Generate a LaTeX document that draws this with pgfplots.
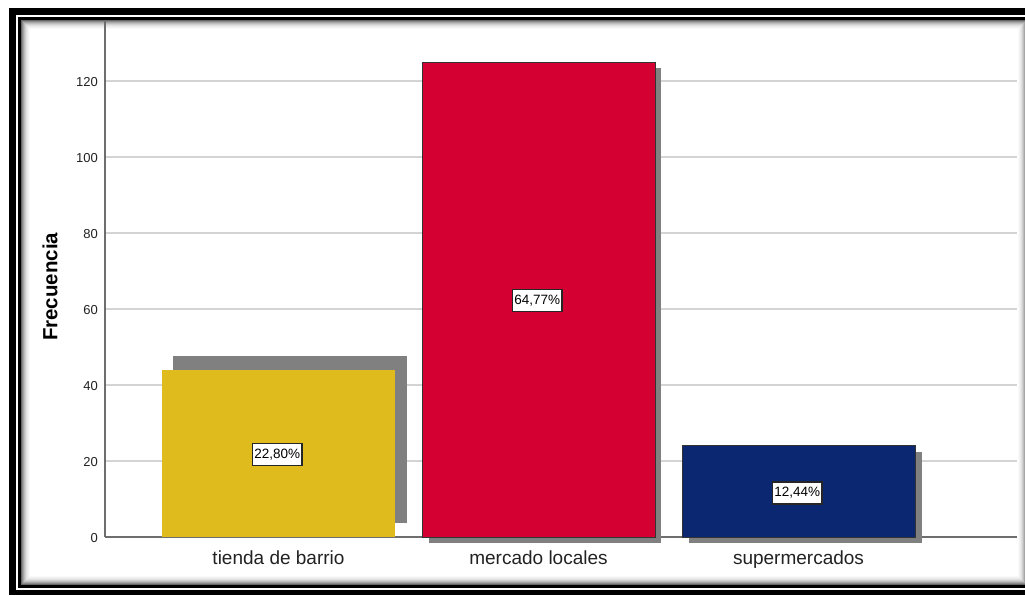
\documentclass[border=0pt]{standalone}
\usepackage{pgfplots}
\pgfplotsset{compat=1.18}
\usepackage{fontspec}
\setmainfont{Liberation Sans}
\definecolor{barY}{HTML}{E0BB1E}
\definecolor{barR}{HTML}{D50032}
\definecolor{barB}{HTML}{0B2771}
\definecolor{shadowgray}{HTML}{808080}
\definecolor{gridgray}{HTML}{D4D4D4}
\definecolor{axisgray}{HTML}{6E6E6E}
\definecolor{txt}{HTML}{222222}
\begin{document}
\begin{tikzpicture}[x=1pt,y=1pt]
\useasboundingbox (0,0) rectangle (1025,595);
% outer frame
\fill[black] (9,0) rectangle (1030,587);
\fill[white] (16,5) rectangle (1030,580);
\fill[black] (18,7) rectangle (1030,578);
\foreach \i/\c in {0/60,1/46,2/35,3/26,4/18,5/12,6/8,7/5,8/2,9/0} {
  \fill[black!\c] ({21+\i},{10+\i}) rectangle ({1027-\i},{575-\i});
}
\begin{axis}[
  at={(105pt,58pt)}, anchor=south west,
  scale only axis, width=912pt, height=517pt,
  xmin=-0.6673, xmax=2.8404, ymin=0, ymax=136.05,
  axis x line=bottom, axis y line=left,
  axis line style={-, color=axisgray, line width=1.2pt},
  xtick={0,1,2},
  xticklabels={tienda de barrio, mercado locales, supermercados},
  ytick={0,20,40,60,80,100,120},
  major tick length=0pt,
  ymajorgrids, grid style={color=gridgray, line width=1.6pt},
  clip=false,
  /pgf/number format/assume math mode=true,
  xticklabel style={font=\fontsize{19}{21}\selectfont, anchor=base, yshift=-27pt, text=txt},
  yticklabel style={font=\fontsize{13}{14}\selectfont, anchor=east, inner sep=0pt, xshift=-7pt, yshift=-1.5pt, text=txt},
  ylabel={Frecuencia},
  ylabel style={font=\fontsize{20.5}{22}\selectfont\bfseries, at={(axis description cs:-0.0603,0.484)}, anchor=center, text=black},
]
% shadows
\addplot[fill=shadowgray, draw=none] coordinates {(-0.407,3.6) (0.494,3.6) (0.494,47.6) (-0.407,47.6)} --cycle;
\addplot[fill=shadowgray, draw=none] coordinates {(0.577,-1.6) (1.473,-1.6) (1.473,123.4) (0.577,123.4)} --cycle;
\addplot[fill=shadowgray, draw=none] coordinates {(1.579,-1.6) (2.475,-1.6) (2.475,22.4) (1.579,22.4)} --cycle;
% bars
\addplot[ybar, bar width=233pt, bar shift=0pt, fill=barY, draw=none] coordinates {(0,44)};
\addplot[ybar, bar width=233pt, bar shift=0pt, fill=barR, draw=black!80, line width=0.8pt] coordinates {(1,125)};
\addplot[ybar, bar width=233pt, bar shift=0pt, fill=barB, draw=black!80, line width=0.8pt] coordinates {(2,24)};
% percent labels
\addplot[draw=none, mark=none, nodes near coords, point meta=explicit symbolic,
  every node near coord/.append style={anchor=center, fill=white, draw=black!85, line width=1.2pt, inner xsep=2pt, inner ysep=5pt, text height=10pt, text depth=2pt, font=\fontsize{13.5}{14}\selectfont, text=black}]
  coordinates {(-0.005,21.8) [22,80\%] (0.995,62.3) [64,77\%] (1.995,11.6) [12,44\%]};
\end{axis}
\end{tikzpicture}
\end{document}
